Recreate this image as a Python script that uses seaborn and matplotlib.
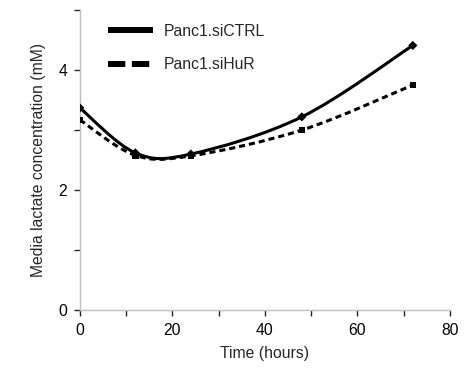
import numpy as np
import pandas as pd
import matplotlib
matplotlib.use("Agg")
import matplotlib.pyplot as plt
import seaborn as sns
from matplotlib.path import Path
from matplotlib.patches import PathPatch
from matplotlib.lines import Line2D

time_h = [0, 12, 24, 48, 72]
siCTRL = [3.37, 2.62, 2.60, 3.22, 4.41]
siHuR = [3.17, 2.58, 2.57, 3.00, 3.75]
series_names = ["Panc1.siCTRL", "Panc1.siHuR"]
x_ticks = [0, 20, 40, 60, 80]
y_ticks = [0, 2, 4]

sns.set_theme(style="white")
plt.rcParams["font.family"] = ["Liberation Sans", "DejaVu Sans"]
FS = 11.3

df = pd.DataFrame({
    "Time": time_h * 2,
    "Lactate": siCTRL + siHuR,
    "Series": [series_names[0]] * len(time_h) + [series_names[1]] * len(time_h),
})

fig = plt.figure(figsize=(4.75, 3.71), dpi=100)
ax = fig.add_axes([0.168, 0.164, 0.779, 0.809])

# data markers
sns.scatterplot(data=df, x="Time", y="Lactate", hue="Series", style="Series",
                markers={series_names[0]: "D", series_names[1]: "s"},
                s=22, palette=["black", "black"], edgecolor="black", linewidth=0,
                legend=False, ax=ax, zorder=3)


def smooth_path(xs, ys):
    xs = np.asarray(xs, float)
    ys = np.asarray(ys, float)
    pts = np.column_stack([xs, ys])
    verts = [pts[0]]
    codes = [Path.MOVETO]
    n = len(pts)
    for i in range(n - 1):
        p0 = pts[i - 1] if i > 0 else pts[i]
        p1 = pts[i]
        p2 = pts[i + 1]
        p3 = pts[i + 2] if i + 2 < n else pts[i + 1]
        c1 = p1 + (p2 - p0) / 6.0
        c2 = p2 - (p3 - p1) / 6.0
        verts += [c1, c2, p2]
        codes += [Path.CURVE4] * 3
    return Path(verts, codes)

ax.add_patch(PathPatch(smooth_path(time_h, siCTRL), fill=False, edgecolor="black",
                       lw=2.2, zorder=2, capstyle="round"))
ax.add_patch(PathPatch(smooth_path(time_h, siHuR), fill=False, edgecolor="black",
                       lw=2.2, linestyle=(0, (2.0, 1.3)), zorder=2))

ax.set_xlim(0, 80)
ax.set_ylim(0, 5)
ax.set_xticks(x_ticks)
ax.set_yticks(y_ticks)
ax.set_xticks(np.arange(0, 81, 10), minor=True)
ax.set_yticks(np.arange(0, 6, 1), minor=True)
ax.set_xlabel("Time (hours)", fontsize=FS, labelpad=6)
ax.set_ylabel("Media lactate concentration (mM)", fontsize=FS, labelpad=9)

for s in ["top", "right"]:
    ax.spines[s].set_visible(False)
for s in ["left", "bottom"]:
    ax.spines[s].set_color("#bdbdbd")
    ax.spines[s].set_linewidth(1.0)
ax.tick_params(which="both", direction="out", width=1.0,
               labelsize=FS, labelcolor="black", bottom=True, left=True)
ax.tick_params(which="major", length=4, pad=5)
ax.tick_params(which="minor", length=4)
for t in (ax.xaxis.get_majorticklines() + ax.xaxis.get_minorticklines()
          + ax.yaxis.get_majorticklines() + ax.yaxis.get_minorticklines()):
    t.set_color("#bdbdbd")

handles = [Line2D([0], [0], color="black", lw=4.3, solid_capstyle="butt"),
           Line2D([0], [0], color="black", lw=4.3, linestyle=(0, (2.9, 1.1)),
                  dash_capstyle="butt")]
ax.legend(handles, series_names, loc="upper left", bbox_to_anchor=(0.076, 0.955),
          frameon=False, fontsize=FS, handlelength=2.87, handletextpad=0.7,
          labelspacing=1.2, borderpad=0, borderaxespad=0)

fig.savefig("out.png", dpi=100)
